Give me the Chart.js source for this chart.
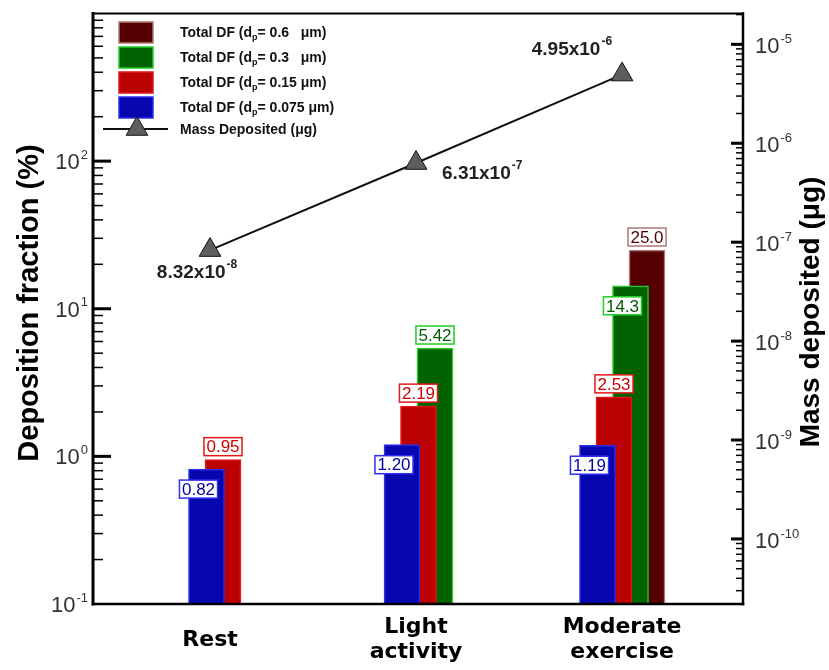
<!DOCTYPE html>
<html>
<head>
<meta charset="utf-8">
<script src="https://cdn.jsdelivr.net/npm/chart.js@4.4.0/dist/chart.umd.min.js"></script>
<style>
  html, body { margin: 0; padding: 0; background: #fff; }
  #wrap { width: 829px; height: 670px; }
</style>
</head>
<body>
<div id="wrap"><canvas id="chart" width="829" height="670"></canvas></div>
<script>
// Data
const categories = ['Rest', ['Light', 'activity'], ['Moderate', 'exercise']];
const df075 = [0.82, 1.20, 1.19];
const df015 = [0.95, 2.19, 2.53];
const df03 = [null, 5.42, 14.3];
const df06 = [null, null, 25.0];
const massDeposited = [8.32e-8, 6.31e-7, 4.95e-6];
const sizeLabels = ['= 0.075 μm)', '= 0.15 μm)', '= 0.3   μm)', '= 0.6   μm)'];
const leftTicks = [0.1, 1, 10, 100];
const rightTicks = [1e-10, 1e-9, 1e-8, 1e-7, 1e-6, 1e-5];

const seriesData = [df075, df015, df03, df06];
const barStyles = [
    { fill: '#0707B0', edge: '#2E2EEE', text: '#0000A0' },
    { fill: '#BA0000', edge: '#E41616', text: '#CC0000' },
    { fill: '#006200', edge: '#22CC22', text: '#005A00' },
    { fill: '#540000', edge: '#B07878', text: '#500000' }
];
const FONT = '"Liberation Sans", Arial, sans-serif';

// layout of the overlapping bar groups (pixels)
const AREA_LEFT = 93, AREA_WIDTH = 650;
const GROUP_STEP = 195.5, SLOT_STEP = 16.5, FIRST_BAR = 206.5;

function drawPower(ctx, base, exp, x, y, o) {
    ctx.save();
    ctx.fillStyle = o.color;
    ctx.textBaseline = 'middle';
    ctx.textAlign = 'left';
    ctx.font = `${o.weight} ${o.size}px ${FONT}`;
    const bw = ctx.measureText(base).width;
    ctx.font = `${o.weight} ${o.expSize}px ${FONT}`;
    const ew = ctx.measureText(exp).width;
    const total = bw + 1 + ew;
    let left = x;
    if (o.align === 'right') left = x - total;
    if (o.align === 'center') left = x - total / 2;
    ctx.font = `${o.weight} ${o.size}px ${FONT}`;
    ctx.fillText(base, left, y);
    ctx.font = `${o.weight} ${o.expSize}px ${FONT}`;
    ctx.fillText(exp, left + bw + 1, y - o.rise);
    ctx.restore();
}

function drawTriangle(ctx, x, y, r) {
    ctx.beginPath();
    ctx.moveTo(x, y - r);
    ctx.lineTo(x + Math.sin(2 * Math.PI / 3) * r, y + r / 2);
    ctx.lineTo(x - Math.sin(2 * Math.PI / 3) * r, y + r / 2);
    ctx.closePath();
    ctx.fillStyle = '#5E5E5E';
    ctx.fill();
    ctx.lineWidth = 1;
    ctx.strokeStyle = '#111';
    ctx.stroke();
}

function logTicks(scale, side, majorLen, minorLen, area, ctx) {
    const lo = Math.floor(Math.log10(scale.min));
    const hi = Math.ceil(Math.log10(scale.max));
    const x0 = side === 'left' ? area.left : area.right;
    const dir = side === 'left' ? 1 : -1;
    for (let e = lo; e <= hi; e++) {
        for (let m = 1; m <= 9; m++) {
            const v = m * Math.pow(10, e);
            if (v <= scale.min * 1.0001 || v >= scale.max * 0.9999) continue;
            const py = scale.getPixelForValue(v);
            ctx.beginPath();
            ctx.lineWidth = m === 1 ? 3 : 1.5;
            ctx.moveTo(x0, py);
            ctx.lineTo(x0 + dir * (m === 1 ? majorLen : minorLen), py);
            ctx.stroke();
        }
    }
}

const decorations = {
    id: 'decorations',
    beforeDraw(chart) {
        const ctx = chart.ctx;
        ctx.save();
        ctx.fillStyle = '#fff';
        ctx.fillRect(0, 0, chart.width, chart.height);
        ctx.restore();
    },
    afterDatasetsDraw(chart) {
        const ctx = chart.ctx;
        const area = chart.chartArea;
        const yL = chart.scales.y, yR = chart.scales.y2, xl = chart.scales.xl;

        // value boxes on the bars
        ctx.save();
        ctx.font = `17px ${FONT}`;
        ctx.textAlign = 'center';
        ctx.textBaseline = 'middle';
        seriesData.forEach((vals, di) => {
            const meta = chart.getDatasetMeta(di);
            vals.forEach((v, j) => {
                if (v == null) return;
                const bar = meta.data[j];
                const txt = v >= 10 ? v.toFixed(1) : v.toFixed(2);
                const w = ctx.measureText(txt).width + 5, h = 18;
                const inside = di === 0 || (di === 2 && seriesData[3][j] != null);
                const cx = inside ? bar.x - 8 : bar.x;
                const top = inside ? bar.y + 11 : bar.y - 4 - h;
                ctx.fillStyle = '#fff';
                ctx.fillRect(cx - w / 2, top, w, h);
                ctx.lineWidth = 1.5;
                ctx.strokeStyle = barStyles[di].edge;
                ctx.strokeRect(cx - w / 2, top, w, h);
                ctx.fillStyle = barStyles[di].text;
                ctx.fillText(txt, cx, top + h / 2 + 1);
            });
        });
        ctx.restore();

        // mass labels next to the triangles
        const massMeta = chart.getDatasetMeta(4);
        const anchors = [
            { dx: -13, dy: 23, align: 'center' },
            { dx: 26, dy: 11, align: 'left' },
            { dx: -10, dy: -25, align: 'right' }
        ];
        massDeposited.forEach((v, j) => {
            const pt = massMeta.data[j];
            const parts = v.toExponential(2).split('e');
            drawPower(ctx, parts[0] + 'x10', parts[1], pt.x + anchors[j].dx, pt.y + anchors[j].dy,
                { size: 19, expSize: 12, weight: 'bold', color: '#222', align: anchors[j].align, rise: 8 });
        });

        // legend
        ctx.save();
        for (let k = 0; k < 4; k++) {
            const di = 3 - k;
            const top = 22 + k * 25;
            ctx.fillStyle = barStyles[di].fill;
            ctx.fillRect(119, top, 34, 21);
            ctx.lineWidth = 1.5;
            ctx.strokeStyle = barStyles[di].edge;
            ctx.strokeRect(119, top, 34, 21);
            ctx.fillStyle = '#111';
            ctx.textBaseline = 'middle';
            ctx.textAlign = 'left';
            ctx.font = `bold 14px ${FONT}`;
            const cy = top + 11;
            let tx = 180;
            ctx.fillText('Total DF (d', tx, cy);
            tx += ctx.measureText('Total DF (d').width;
            ctx.font = `bold 9px ${FONT}`;
            ctx.fillText('p', tx, cy + 5);
            tx += ctx.measureText('p').width;
            ctx.font = `bold 14px ${FONT}`;
            ctx.fillText(sizeLabels[di], tx, cy);
        }
        ctx.beginPath();
        ctx.lineWidth = 2;
        ctx.strokeStyle = '#111';
        ctx.moveTo(103, 129);
        ctx.lineTo(168, 129);
        ctx.stroke();
        drawTriangle(ctx, 137, 129, 12.5);
        ctx.fillStyle = '#111';
        ctx.font = `bold 14px ${FONT}`;
        ctx.textBaseline = 'middle';
        ctx.fillText('Mass Deposited (μg)', 180, 130);
        ctx.restore();

        // frame and ticks
        ctx.save();
        ctx.strokeStyle = '#000';
        logTicks(yL, 'left', 18, 10, area, ctx);
        logTicks(yR, 'right', 12, 7, area, ctx);
        ctx.lineCap = 'square';
        ctx.beginPath(); ctx.lineWidth = 2; ctx.moveTo(area.left, area.top); ctx.lineTo(area.right, area.top); ctx.stroke();
        ctx.beginPath(); ctx.lineWidth = 2.5; ctx.moveTo(area.right, area.top); ctx.lineTo(area.right, area.bottom); ctx.stroke();
        ctx.beginPath(); ctx.lineWidth = 2.5; ctx.moveTo(area.left, area.bottom); ctx.lineTo(area.right, area.bottom); ctx.stroke();
        ctx.beginPath(); ctx.lineWidth = 3; ctx.moveTo(area.left, area.top); ctx.lineTo(area.left, area.bottom); ctx.stroke();
        ctx.restore();

        // tick labels
        leftTicks.forEach(v => {
            drawPower(ctx, '10', String(Math.round(Math.log10(v))), area.left - 5, yL.getPixelForValue(v) + 2,
                { size: 22, expSize: 13, weight: 'normal', color: '#333', align: 'right', rise: 8 });
        });
        rightTicks.forEach(v => {
            drawPower(ctx, '10', String(Math.round(Math.log10(v))), area.right + 12, yR.getPixelForValue(v) + 3,
                { size: 22, expSize: 13, weight: 'normal', color: '#333', align: 'left', rise: 8 });
        });

        // category labels
        ctx.save();
        ctx.fillStyle = '#000';
        ctx.font = `bold 22px "DejaVu Sans", Verdana, sans-serif`;
        ctx.textAlign = 'center';
        ctx.textBaseline = 'middle';
        categories.forEach((c, i) => {
            const px = xl.getPixelForValue(i);
            const lines = Array.isArray(c) ? c : [c];
            const y0 = 640 - (lines.length - 1) * 12.5;
            lines.forEach((ln, k) => ctx.fillText(ln, px, y0 + k * 25));
        });
        ctx.restore();

        // axis titles
        ctx.save();
        ctx.fillStyle = '#000';
        ctx.font = `bold 29px ${FONT}`;
        ctx.textAlign = 'center';
        ctx.textBaseline = 'middle';
        ctx.translate(30, 303);
        ctx.rotate(-Math.PI / 2);
        ctx.fillText('Deposition fraction (%)', 0, 0);
        ctx.restore();
        ctx.save();
        ctx.fillStyle = '#000';
        ctx.font = `bold 28px ${FONT}`;
        ctx.textAlign = 'center';
        ctx.textBaseline = 'middle';
        ctx.translate(811, 312);
        ctx.rotate(-Math.PI / 2);
        ctx.fillText('Mass deposited (μg)', 0, 0);
        ctx.restore();
    }
};

const indexTicks = scale => { scale.ticks = categories.map((c, i) => ({ value: i })); };

// one hidden x axis per bar series, shifted by one slot, so the bars overlap
function barAxis(i) {
    const min = -(FIRST_BAR + i * SLOT_STEP - AREA_LEFT) / GROUP_STEP;
    return { type: 'linear', display: false, offset: false, min, max: min + AREA_WIDTH / GROUP_STEP, afterBuildTicks: indexTicks };
}

const datasets = seriesData.map((vals, i) => ({
    type: 'bar',
    label: 'Total DF (dp' + sizeLabels[i],
    data: vals.map((v, j) => ({ x: j, y: v })),
    xAxisID: 'xb' + i,
    yAxisID: 'y',
    backgroundColor: barStyles[i].fill,
    borderColor: barStyles[i].edge,
    borderWidth: 1.5,
    grouped: false,
    barThickness: 36,
    order: i + 1
}));
datasets.push({
    type: 'line',
    label: 'Mass Deposited (μg)',
    data: massDeposited.map((v, j) => ({ x: j, y: v })),
    xAxisID: 'xl',
    yAxisID: 'y2',
    borderColor: '#111',
    borderWidth: 2,
    pointStyle: 'triangle',
    pointRadius: 12.5,
    pointBackgroundColor: '#5E5E5E',
    pointBorderColor: '#111',
    pointBorderWidth: 1,
    order: 0
});

new Chart(document.getElementById('chart'), {
    type: 'bar',
    data: { datasets },
    options: {
        responsive: false,
        devicePixelRatio: 1,
        animation: false,
        layout: { padding: { left: AREA_LEFT, right: 829 - AREA_LEFT - AREA_WIDTH, top: 12, bottom: 66 } },
        plugins: { legend: { display: false }, tooltip: { enabled: false } },
        scales: {
            xb0: barAxis(0),
            xb1: barAxis(1),
            xb2: barAxis(2),
            xb3: barAxis(3),
            xl: { type: 'linear', display: false, offset: false, min: -0.568, max: 2.587, afterBuildTicks: indexTicks },
            y: { type: 'logarithmic', display: false, position: 'left', min: 0.1, max: 1000 },
            y2: { type: 'logarithmic', display: false, position: 'right', min: 2.2e-11, max: 2.05e-5 }
        }
    },
    plugins: [decorations]
});
</script>
</body>
</html>
